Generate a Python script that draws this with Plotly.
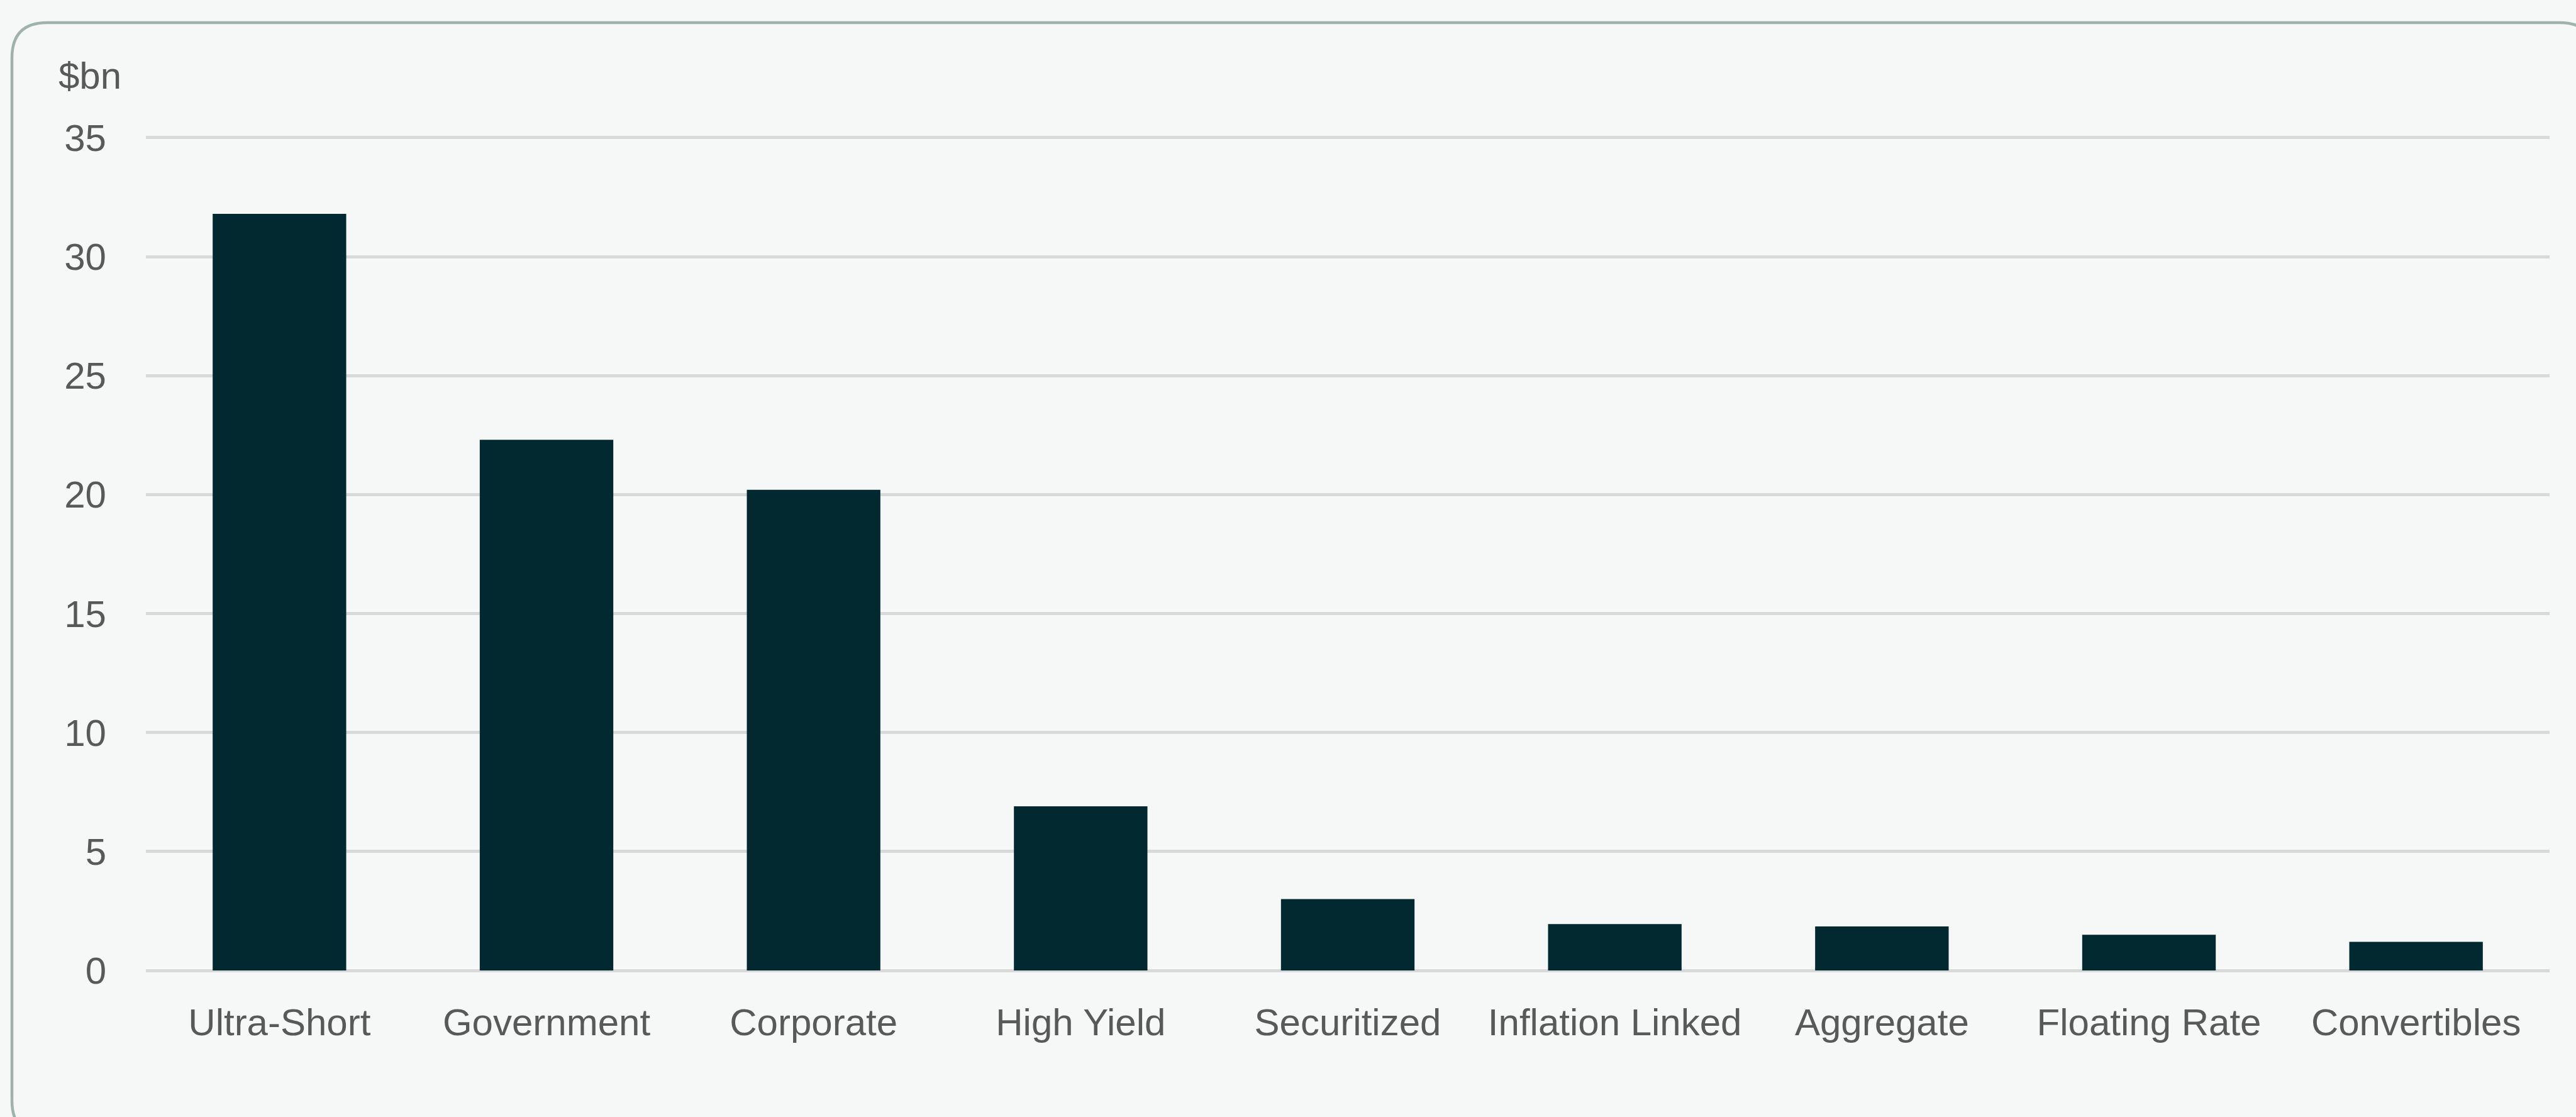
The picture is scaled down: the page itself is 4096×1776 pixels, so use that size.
import plotly.graph_objects as go

# Fixed income flows by category, $bn
categories = ["Ultra-Short", "Government", "Corporate", "High Yield", "Securitized",
              "Inflation Linked", "Aggregate", "Floating Rate", "Convertibles"]
values = [31.8, 22.3, 20.2, 6.9, 3.0, 1.95, 1.85, 1.5, 1.2]
y_ticks = [0, 5, 10, 15, 20, 25, 30, 35]

W, H = 4096, 1776
Y_TOP = 35.05  # a touch above 35 so the top gridline is kept
L, R, B = 232, 42, 233
T = round(219 - (Y_TOP - 35) * (H - B - 219) / 35)

BG = "#F5F8F7"
BAR = "#032930"
GRID = "#D9D9D9"
TEXT = "#595959"
FONT = "Liberation Sans, Arial, sans-serif"

fig = go.Figure(go.Bar(
    x=categories, y=values,
    marker=dict(color=BAR, line=dict(width=0)),
    hoverinfo="x+y",
))

# convert pixel positions to paper coordinates for the frame
pw = W - L - R
ph = H - T - B


def px(x):
    return (x - L) / pw


def py(y):
    return (H - B - y) / ph


# rounded card frame (right and bottom edges run past the page)
left, top, right, bottom, rad = 19, 36, 4126, 1806, 56
path = (
    f"M {px(left)},{py(top + rad)} "
    f"Q {px(left)},{py(top)} {px(left + rad)},{py(top)} "
    f"L {px(right - rad)},{py(top)} "
    f"Q {px(right)},{py(top)} {px(right)},{py(top + rad)} "
    f"L {px(right)},{py(bottom - rad)} "
    f"Q {px(right)},{py(bottom)} {px(right - rad)},{py(bottom)} "
    f"L {px(left + rad)},{py(bottom)} "
    f"Q {px(left)},{py(bottom)} {px(left)},{py(bottom - rad)} Z"
)

fig.update_layout(
    width=W, height=H,
    margin=dict(l=L, r=R, t=T, b=B, pad=0),
    paper_bgcolor=BG,
    plot_bgcolor="rgba(0,0,0,0)",
    bargap=0.5,
    showlegend=False,
    font=dict(family=FONT, size=60, color=TEXT),
    shapes=[dict(type="path", path=path, xref="paper", yref="paper",
                 line=dict(color="#9FB2AE", width=4.5), layer="below")],
    annotations=[dict(text="$bn", xref="paper", yref="paper",
                      x=px(143), y=py(120), xanchor="center", yanchor="middle",
                      showarrow=False, font=dict(family=FONT, size=60, color=TEXT))],
    xaxis=dict(
        showgrid=False, showline=False, zeroline=False, ticks="",
        tickfont=dict(family=FONT, size=60, color=TEXT),
        ticklabelstandoff=42,
    ),
    yaxis=dict(
        range=[0, Y_TOP], tickvals=y_ticks, ticktext=[str(v) for v in y_ticks],
        showgrid=True, gridcolor=GRID, gridwidth=4.5,
        zeroline=True, zerolinecolor=GRID, zerolinewidth=4.5,
        showline=False, ticks="",
        tickfont=dict(family=FONT, size=60, color=TEXT),
        ticklabelstandoff=62,
    ),
)

fig.write_html("out.html")
